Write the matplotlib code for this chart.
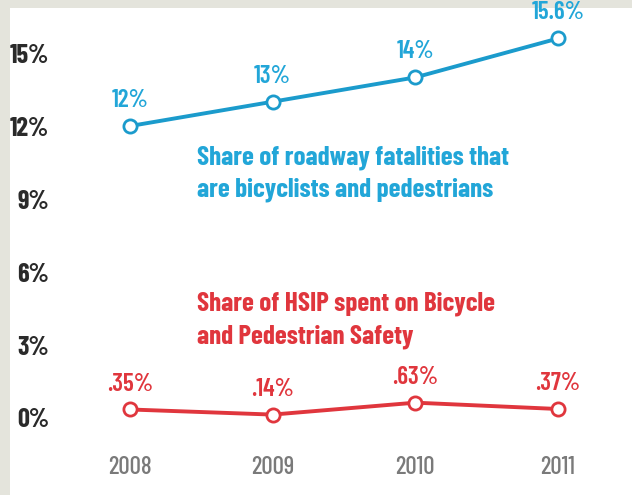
import matplotlib
matplotlib.use("Agg")
import matplotlib.pyplot as plt
from matplotlib.patches import Rectangle
from matplotlib import font_manager

years = ["2008", "2009", "2010", "2011"]
fatality_share = [12, 13, 14, 15.6]
fatality_labels = ["12%", "13%", "14%", "15.6%"]
hsip_share = [0.35, 0.14, 0.63, 0.37]
hsip_labels = [".35%", ".14%", ".63%", ".37%"]
y_ticks = [0, 3, 6, 9, 12, 15]
y_tick_labels = ["0%", "3%", "6%", "9%", "12%", "15%"]

names = {f.name for f in font_manager.fontManager.ttflist}
FONT = "Barlow Condensed" if "Barlow Condensed" in names else "DejaVu Sans"
FAM = [FONT, "DejaVu Sans"]

BLUE = "#1b9bcc"
BLUE_TXT = "#22a6d8"
RED = "#e0363d"
GRAY_BG = "#e4e4dc"

W, H = 632, 495
fig = plt.figure(figsize=(W / 100, H / 100), dpi=100)
fig.patch.set_facecolor(GRAY_BG)
fig.patches.append(Rectangle((10 / W, 0), 1 - 10 / W, 1 - 8 / H, transform=fig.transFigure,
                             facecolor="white", edgecolor="none", zorder=-10))

# axes: px left 60, right 620, top 10, bottom 445
ax = fig.add_axes([60 / W, (H - 445) / H, 560 / W, 435 / H])
ax.set_zorder(5)
ax.set_facecolor("none")
x = list(range(len(years)))
ax.set_xlim(-0.4907, 3.4346)
ax.set_ylim(-1.11, 16.77)

ax.plot(x, fatality_share, color=BLUE, lw=2.8, marker="o", ms=9.5, mfc="white",
        mec=BLUE, mew=2.0, zorder=3)
ax.plot(x, hsip_share, color=RED, lw=2.8, marker="o", ms=9.5, mfc="white",
        mec=RED, mew=2.0, zorder=3)

for xi, v, lab in zip(x, fatality_share, fatality_labels):
    ax.annotate(lab, (xi, v), xytext=(0, 18.5), textcoords="offset points",
                ha="center", va="center", color=BLUE_TXT, fontsize=18,
                family=FAM, fontweight="semibold")
for xi, v, lab in zip(x, hsip_share, hsip_labels):
    ax.annotate(lab, (xi, v), xytext=(0, 18), textcoords="offset points",
                ha="center", va="center", color=RED, fontsize=18,
                family=FAM, fontweight="semibold")

ax.text(197 / W, 1 - 145 / H, "Share of roadway fatalities that\nare bicyclists and pedestrians",
        transform=fig.transFigure, color=BLUE_TXT, fontsize=19.5, family=FAM,
        fontweight="bold", ha="left", va="top", linespacing=1.4)
ax.text(197 / W, 1 - 292 / H, "Share of HSIP spent on Bicycle\nand Pedestrian Safety",
        transform=fig.transFigure, color=RED, fontsize=19.5, family=FAM,
        fontweight="bold", ha="left", va="top", linespacing=1.4)

ax.set_yticks(y_ticks)
ax.set_yticklabels(y_tick_labels, family=FAM, fontweight="bold", fontsize=19,
                   color="#2a2a2a")
ax.set_xticks(x)
ax.set_xticklabels(years, family=FAM, fontweight="medium", fontsize=18, color="#7a7a7a")
ax.tick_params(axis="y", length=0, pad=8)
ax.tick_params(axis="x", length=0, pad=8)
for s in ax.spines.values():
    s.set_visible(False)

fig.savefig("out.png", dpi=100, facecolor=fig.get_facecolor())
